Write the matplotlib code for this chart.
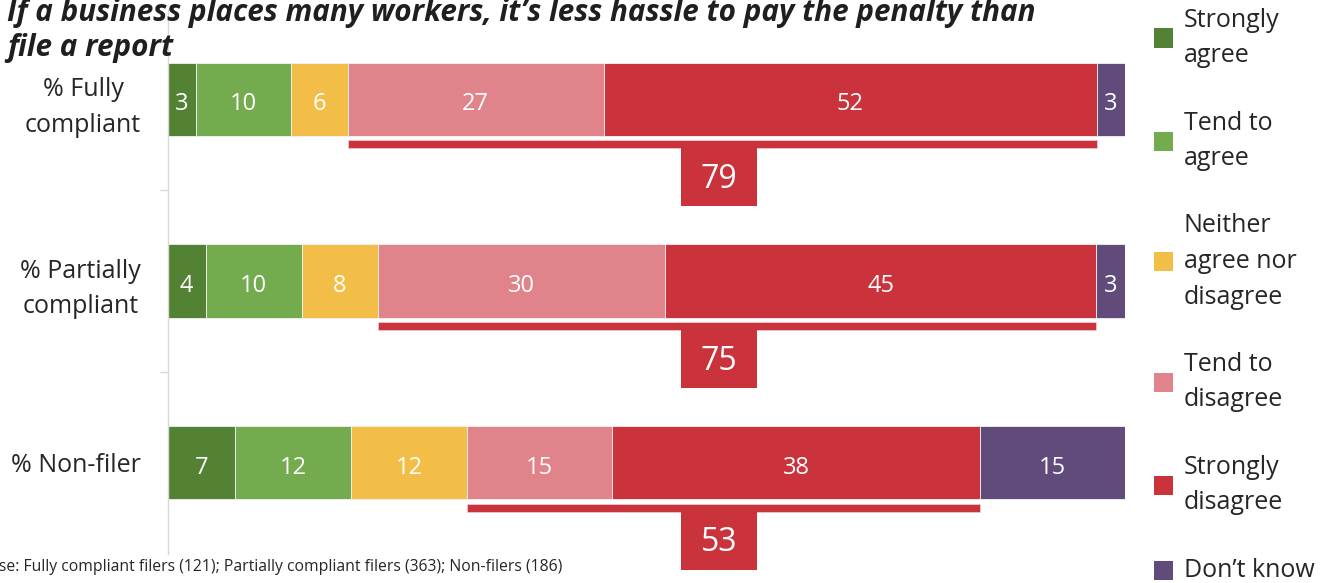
import textwrap
import matplotlib
matplotlib.use("Agg")
import matplotlib.pyplot as plt
from matplotlib.patches import Rectangle

plt.rcParams["font.family"] = ["Open Sans", "DejaVu Sans"]

# ---- data -------------------------------------------------------------
title = "If a business places many workers, it’s less hassle to pay the penalty than\nfile a report"
groups = ["% Fully\ncompliant", "% Partially\ncompliant", "% Non-filer"]
responses = ["Strongly agree", "Tend to agree", "Neither agree nor disagree",
             "Tend to disagree", "Strongly disagree", "Don’t know"]
strongly_agree = [3, 4, 7]
tend_agree = [10, 10, 12]
neither = [6, 8, 12]
tend_disagree = [27, 30, 15]
strongly_disagree = [52, 45, 38]
dont_know = [3, 3, 15]
base_note = "Base: Fully compliant filers (121); Partially compliant filers (363); Non-filers (186)"

colors = ["#548235", "#74AB4F", "#F2BE48", "#E0838A", "#CA333B", "#604B7A"]
red = "#CA333B"

series = [strongly_agree, tend_agree, neither, tend_disagree, strongly_disagree, dont_know]

# ---- figure -----------------------------------------------------------
W, H = 1330, 583
fig = plt.figure(figsize=(W / 100, H / 100), dpi=100)


def fx(px):
    return px / W


def fy(py):
    return 1 - py / H


ax = fig.add_axes([fx(167.5), fy(553.5), fx(1125) - fx(167.5), fy(8.5) - fy(553.5)])
ax.set_xlim(0, 100)
ax.set_ylim(len(groups) - 0.5, -0.5)

bar_h = 0.402
row_px = 181.5
for i, g in enumerate(groups):
    vals = [s[i] for s in series]
    total = sum(vals)
    left = 0.0
    spans = []
    for j, v in enumerate(vals):
        w = v / total * 100
        ax.barh(i, w, left=left, height=bar_h, color=colors[j],
                edgecolor="#F2F2F2", linewidth=0.6)
        ax.text(left + w / 2, i + 5 / row_px, str(v), ha="center", va="center",
                color="white", fontsize=17)
        spans.append((left, left + w))
        left += w
    # bracket under the two "disagree" segments
    x0, x1 = spans[3][0], spans[4][1]
    y_top = i + 41 / row_px
    y_bot = i + 49 / row_px
    ax.add_patch(Rectangle((x0, y_top), x1 - x0, y_bot - y_top,
                           facecolor=red, edgecolor="#F2D0D2", linewidth=0.5,
                           clip_on=False))
    net = tend_disagree[i] + strongly_disagree[i]
    bx, bw = 57.6, 7.95
    box_bot = i + 107 / row_px
    ax.add_patch(Rectangle((bx - bw / 2, y_bot), bw, box_bot - y_bot,
                           facecolor=red, edgecolor="none", clip_on=False))
    ax.text(bx, (y_bot + box_bot) / 2 + 2 / row_px, str(net), ha="center",
            va="center", color="white", fontsize=23, clip_on=False)

# axes styling
for side in ["top", "right", "bottom"]:
    ax.spines[side].set_visible(False)
ax.spines["left"].set_color("#D9D9D9")
ax.spines["left"].set_linewidth(1.0)
ax.set_xticks([])
ax.set_yticks(range(len(groups)))
ax.set_yticklabels(groups, fontsize=18, color="#262626")
for lab in ax.get_yticklabels():
    lab.set_multialignment("center")
    lab.set_linespacing(1.55)
ax.set_yticks([0.5, 1.5], minor=True)
ax.tick_params(axis="y", which="major", length=0, pad=19)
ax.tick_params(axis="y", which="minor", length=6, width=1.0, color="#D9D9D9", direction="out")

# legend, drawn as squares with wrapped labels
line_px = 35
gap_px = 33
top_px = 3
for j, name in enumerate(responses):
    lines = textwrap.wrap(name, 10)
    block = len(lines) * line_px
    cy = top_px + block / 2
    fig.patches.append(Rectangle((fx(1154), fy(cy + 9.5)), fx(19), 19 / H,
                                 transform=fig.transFigure, facecolor=colors[j],
                                 edgecolor="none"))
    fig.text(fx(1184), fy(cy), "\n".join(lines), ha="left", va="center",
             fontsize=18, color="#262626", linespacing=1.56)
    top_px += block + gap_px

# title and base note
fig.text(fx(7), fy(-2), title, ha="left", va="top", fontsize=21.3,
         fontweight="bold", fontstyle="italic", color="#1F1F1F", linespacing=1.22)
fig.text(fx(562), fy(567), base_note, ha="right", va="center", fontsize=11.3,
         color="#262626")

fig.savefig("out.png", dpi=100)
